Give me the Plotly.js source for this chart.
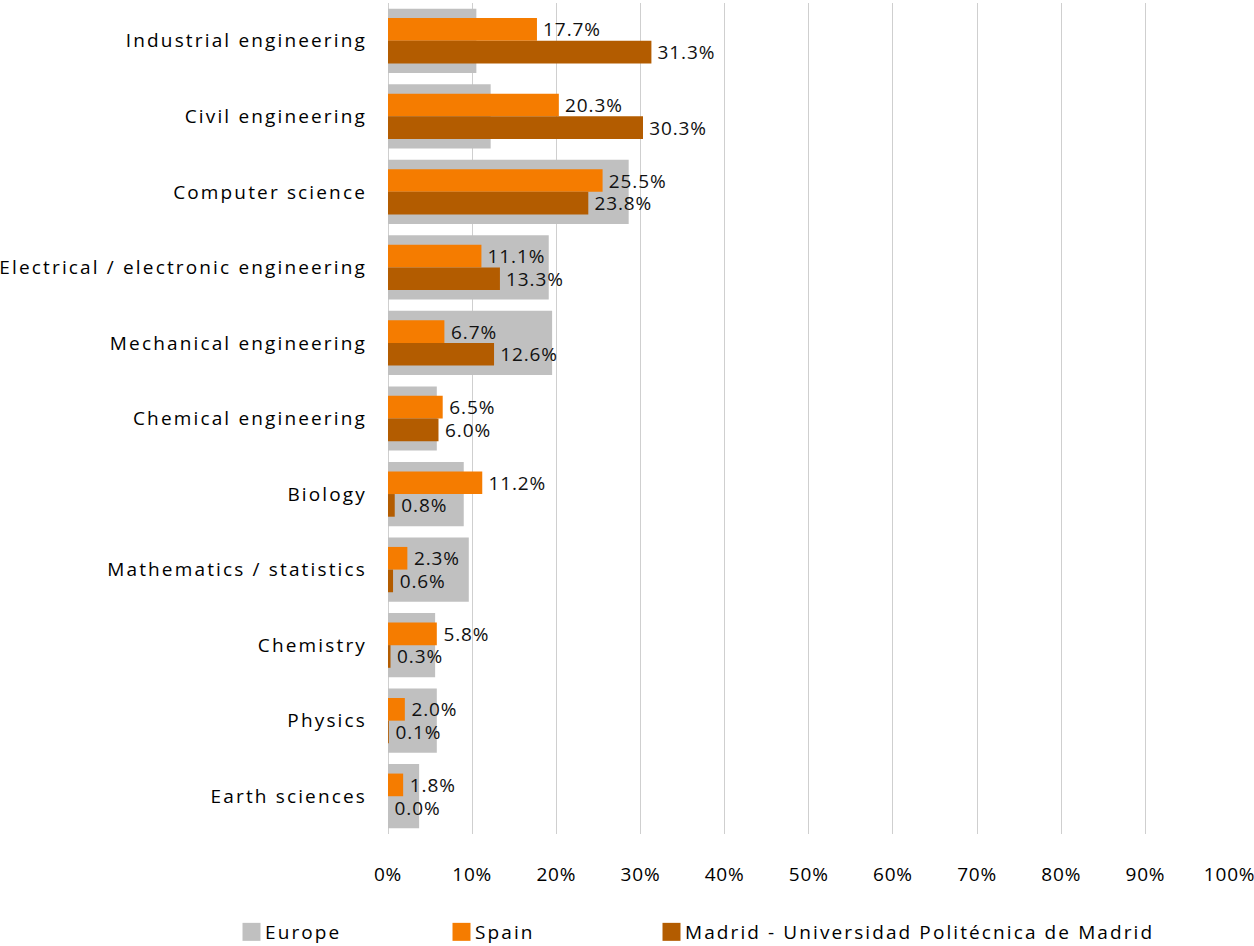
<!DOCTYPE html>
<html>
<head>
<meta charset="utf-8">
<script src="https://cdn.plot.ly/plotly-3.0.1.min.js"></script>
<style>
html,body{margin:0;padding:0;background:#fff;}
#chart{width:1254px;height:946px;}
#chart .ytick text{letter-spacing:2.15px;}
#chart .xtick text{letter-spacing:0.8px;}
#chart .bartext{letter-spacing:0.9px;}
</style>
</head>
<body>
<div id="chart"></div>
<script>
const categories = [
  "Industrial engineering",
  "Civil engineering",
  "Computer science",
  "Electrical / electronic engineering",
  "Mechanical engineering",
  "Chemical engineering",
  "Biology",
  "Mathematics / statistics",
  "Chemistry",
  "Physics",
  "Earth sciences"
];
const europe = [10.5, 12.2, 28.6, 19.1, 19.5, 5.8, 9.0, 9.6, 5.6, 5.8, 3.7];
const spain  = [17.7, 20.3, 25.5, 11.1, 6.7, 6.5, 11.2, 2.3, 5.8, 2.0, 1.8];
const madrid = [31.3, 30.3, 23.8, 13.3, 12.6, 6.0, 0.8, 0.6, 0.3, 0.1, 0.0];
const xTicks = [0, 10, 20, 30, 40, 50, 60, 70, 80, 90, 100];
const seriesNames = ["Europe", "Spain", "Madrid - Universidad Politécnica de Madrid"];

const FONT = "Open Sans, sans-serif";
const traces = [
  {
    type: "bar", orientation: "h", name: seriesNames[0],
    y: categories, x: europe,
    width: 0.85, offset: -0.425,
    marker: {color: "#c0c0c0"}
  },
  {
    type: "bar", orientation: "h", name: seriesNames[1],
    y: categories, x: spain,
    width: 0.3, offset: -0.3,
    marker: {color: "#f57c00"},
    texttemplate: "\u00a0%{x:.1f}%", textposition: "outside",
    outsidetextfont: {family: FONT, size: 19, color: "#111"},
    cliponaxis: false, constraintext: "none"
  },
  {
    type: "bar", orientation: "h", name: seriesNames[2],
    y: categories, x: madrid,
    width: 0.3, offset: 0,
    marker: {color: "#b35c00"},
    texttemplate: "\u00a0%{x:.1f}%", textposition: "outside",
    outsidetextfont: {family: FONT, size: 19, color: "#111"},
    cliponaxis: false, constraintext: "none"
  }
];

const layout = {
  width: 1254, height: 946,
  margin: {l: 388, r: 24, t: 3, b: 112},
  paper_bgcolor: "#fff", plot_bgcolor: "#fff",
  barmode: "overlay",
  showlegend: true,
  font: {family: FONT, size: 19, color: "#000"},
  xaxis: {
    range: [0, 100.05],
    tickvals: xTicks,
    ticktext: xTicks.map(v => v + "%"),
    showgrid: true, gridcolor: "#cfcfcf", gridwidth: 1,
    zeroline: true, zerolinecolor: "#cfcfcf",
    showline: false, ticks: "",
    ticklabelstandoff: 27,
    tickfont: {family: FONT, size: 19, color: "#000"},
    fixedrange: true
  },
  yaxis: {
    type: "category",
    autorange: "reversed",
    showgrid: false, zeroline: false, showline: false, ticks: "",
    ticklabelstandoff: 20,
    tickfont: {family: FONT, size: 19, color: "#000"},
    fixedrange: true
  },
  legend: {
    orientation: "h",
    xref: "container", yref: "container",
    x: 225 / 1254, xanchor: "left",
    y: 1 - 932 / 946, yanchor: "middle",
    entrywidth: 165, entrywidthmode: "pixels",
    bgcolor: "rgba(0,0,0,0)",
    traceorder: "normal",
    font: {family: FONT, size: 19, color: "#000"}
  }
};

const gdEl = document.getElementById("chart");

function styleLegends() {
  // legend styling: wider letter spacing, no clipping, larger swatches next to labels
  gdEl.querySelectorAll("text.legendtext").forEach(t => {
    t.style.letterSpacing = "2.1px";
    let g = t.parentNode;
    while (g && g !== gdEl) {
      if (g.hasAttribute && g.hasAttribute("clip-path")) g.removeAttribute("clip-path");
      g = g.parentNode;
    }
  });
  gdEl.querySelectorAll(".legend [clip-path]").forEach(el => el.removeAttribute("clip-path"));
  gdEl.querySelectorAll("g.traces").forEach(tr => {
    const path = tr.querySelector(".legendpoints path");
    const text = tr.querySelector("text.legendtext");
    if (!path || !text) return;
    path.removeAttribute("transform");
    const pb = path.getBoundingClientRect();
    const tb = text.getBoundingClientRect();
    const cx0 = pb.left + pb.width / 2;
    const target = tb.left - 4.5 - 9;
    path.setAttribute("transform", "translate(" + (target - cx0) + ",0) scale(1.5)");
  });
}

Plotly.newPlot(gdEl, traces, layout, {displayModeBar: false, staticPlot: true}).then(gd => {
  styleLegends();
  gd.on("plotly_afterplot", styleLegends);
});
</script>
</body>
</html>
